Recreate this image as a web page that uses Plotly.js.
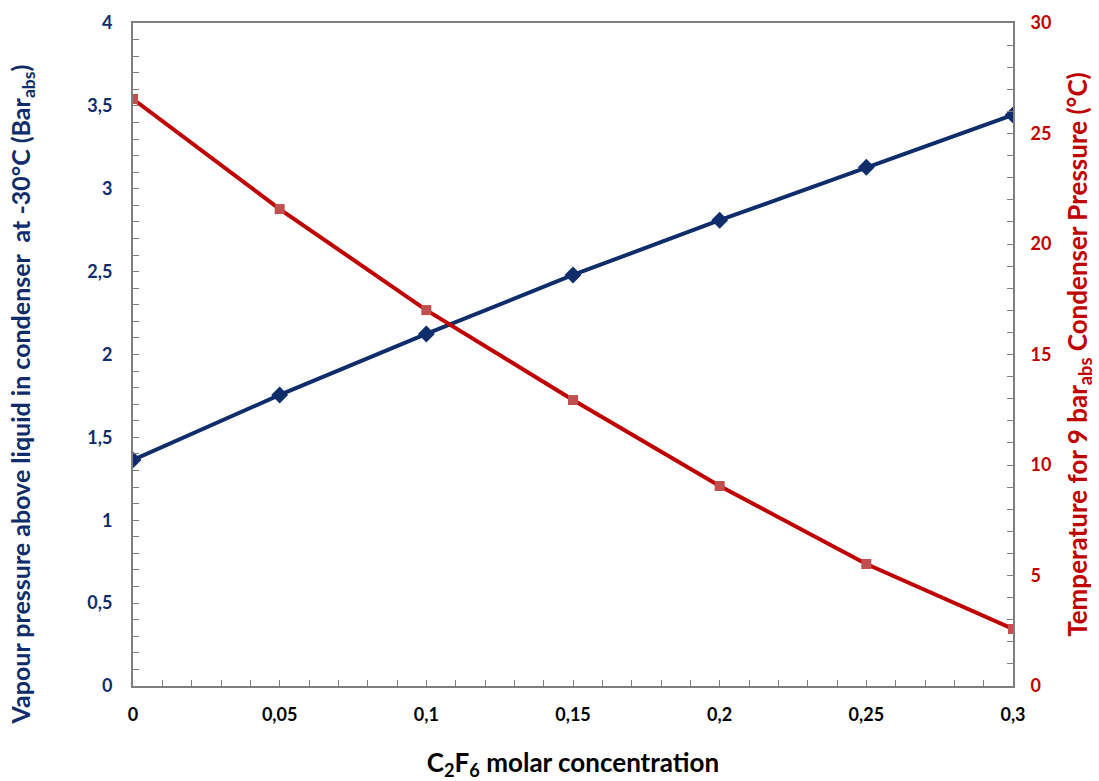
<!DOCTYPE html>
<html><head><meta charset="utf-8">
<script src="https://cdn.plot.ly/plotly-3.0.1.min.js"></script>
<style>html,body{margin:0;padding:0;background:#fff}#chart{width:1099px;height:781px}</style>
</head><body><div id="chart"></div>
<script>
const concentration = [0, 0.05, 0.1, 0.15, 0.2, 0.25, 0.3];
const vapourPressure = [1.364, 1.756, 2.124, 2.48, 2.81, 3.13, 3.445];
const condenserTemp = [26.56, 21.58, 17.01, 12.94, 9.05, 5.52, 2.58];
const xTicks = [0, 0.05, 0.1, 0.15, 0.2, 0.25, 0.3];
const yLeftTicks = [0, 0.5, 1, 1.5, 2, 2.5, 3, 3.5, 4];
const yRightTicks = [0, 5, 10, 15, 20, 25, 30];
const leftTitle = 'Vapour pressure above liquid in condenser  at -30°C (Bar<sub>abs</sub>)';

const NAVY = '#0f2d6b', RED = '#c00000', GRID = '#7f7f7f';
const FONT = 'Lato, "Open Sans", sans-serif';

const traces = [
  {x: concentration, y: vapourPressure, type: 'scatter', mode: 'lines+markers',
   line: {color: NAVY, width: 4}, marker: {symbol: 'diamond', size: 13, color: NAVY},
   yaxis: 'y', showlegend: false},
  {x: concentration, y: condenserTemp, type: 'scatter', mode: 'lines+markers',
   line: {color: RED, width: 4}, marker: {symbol: 'square', size: 10, color: '#c0504d'},
   yaxis: 'y2', showlegend: false}
];

const layout = {
  width: 1099, height: 781,
  margin: {l: 133, r: 86, t: 23, b: 95},
  separators: ', ',
  paper_bgcolor: '#fff', plot_bgcolor: '#fff',
  font: {family: FONT, size: 18, color: '#000', weight: 'bold'},
  xaxis: {
    range: [0, 0.3], tickvals: xTicks, showgrid: false, zeroline: false,
    showline: true, linecolor: GRID, linewidth: 2, mirror: true,
    ticks: 'inside', ticklen: 6, tickcolor: GRID, tickwidth: 1,
    minor: {dtick: 0.01, ticks: 'inside', ticklen: 6, tickcolor: GRID, tickwidth: 1, showgrid: false},
    tickfont: {family: FONT, size: 18, color: '#000', weight: 'bold'},
    ticklabelstandoff: 11,
    title: {text: 'C<sub>2</sub>F<sub>6</sub> molar concentration', standoff: 34,
            font: {family: FONT, size: 26, color: '#000', weight: 'bold'}}
  },
  yaxis: {
    range: [0, 4], tickvals: yLeftTicks, showgrid: false, zeroline: false,
    showline: true, linecolor: GRID, linewidth: 2,
    ticks: 'inside', ticklen: 6, tickcolor: GRID, tickwidth: 1,
    minor: {dtick: 0.1, ticks: 'inside', ticklen: 6, tickcolor: GRID, tickwidth: 1, showgrid: false},
    tickfont: {family: FONT, size: 18, color: NAVY, weight: 'bold'},
    ticklabelstandoff: 15
  },
  yaxis2: {
    overlaying: 'y', side: 'right',
    range: [0, 30], tickvals: yRightTicks, showgrid: false, zeroline: false,
    showline: true, linecolor: GRID, linewidth: 2,
    ticks: 'inside', ticklen: 6, tickcolor: GRID, tickwidth: 1,
    minor: {dtick: 1, ticks: 'inside', ticklen: 6, tickcolor: GRID, tickwidth: 1, showgrid: false},
    tickfont: {family: FONT, size: 18, color: RED, weight: 'bold'},
    ticklabelstandoff: 12,
    title: {text: 'Temperature for 9 bar<sub>abs</sub> Condenser Pressure (°C)', standoff: 18,
            font: {family: FONT, size: 26, color: RED, weight: 'bold'}}
  },
  annotations: [{
    text: leftTitle, xref: 'paper', yref: 'paper',
    x: -0.126, y: 0.44, xanchor: 'center', yanchor: 'middle',
    textangle: -90, showarrow: false,
    font: {family: FONT, size: 25, color: NAVY, weight: 'bold'}
  }]
};

Plotly.newPlot('chart', traces, layout, {displayModeBar: false, staticPlot: true});
</script></body></html>
